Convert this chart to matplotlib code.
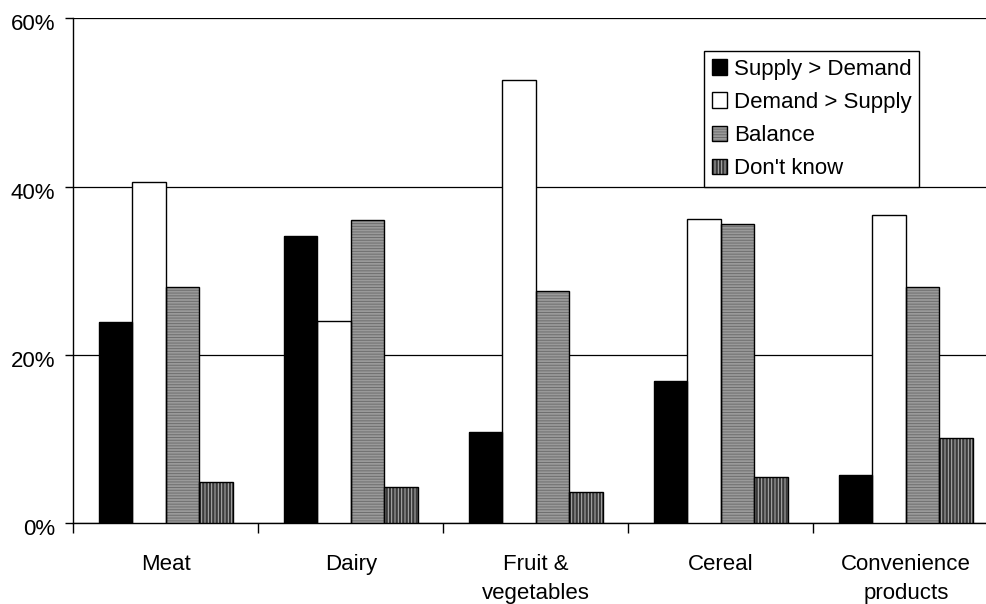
import matplotlib
matplotlib.use("Agg")
import matplotlib.pyplot as plt
import matplotlib.transforms as mtransforms
import numpy as np

categories = ["Meat", "Dairy", "Fruit &\nvegetables", "Cereal", "Convenience\nproducts"]
series_names = ["Supply > Demand", "Demand > Supply", "Balance", "Don't know"]
supply_gt_demand = [23.9, 34.2, 10.9, 16.9, 5.7]
demand_gt_supply = [40.5, 24.0, 52.7, 36.2, 36.6]
balance = [28.1, 36.0, 27.6, 35.6, 28.1]
dont_know = [4.9, 4.3, 3.7, 5.5, 10.1]
y_ticks = [0, 20, 40, 60]

plt.rcParams["font.family"] = ["Liberation Sans", "DejaVu Sans"]
plt.rcParams["hatch.linewidth"] = 0.7

# face colour, hatch pattern, hatch colour
styles = [
    ("black", None, "black"),
    ("white", None, "white"),
    ("#9a9a9a", "------", "#6e6e6e"),
    ("#3a3a3a", "|||||", "#b4b4b4"),
]

fig = plt.figure(figsize=(9.87, 6.04), dpi=100)
ax = fig.add_axes([73.3 / 987, 80.7 / 604, 925 / 987, 504.9 / 604])

x = np.arange(len(categories))
w = 1 / 5.5
handles = []
for j, (vals, (fc, hatch, hc)) in enumerate(
        zip([supply_gt_demand, demand_gt_supply, balance, dont_know], styles)):
    pos = x + (j - 1.5) * w
    fill = ax.bar(pos, vals, w, color=fc, hatch=hatch, edgecolor=hc, linewidth=0, zorder=3)
    line = ax.bar(pos, vals, w, fill=False, edgecolor="black", linewidth=1.0, zorder=4)
    handles.append((fill.patches[0], line.patches[0]))

ax.set_xlim(-0.5, 4.5)
ax.set_ylim(0, 60)
ax.set_yticks(y_ticks)
ax.set_yticklabels([f"{v}%" for v in y_ticks])
ax.yaxis.grid(True, color="black", linewidth=0.9, zorder=0)
ax.set_axisbelow(True)

ax.set_xticks(x)
ax.set_xticklabels(categories, linespacing=1.5)
ax.set_xticks(np.arange(-0.5, 5, 1), minor=True)
ax.tick_params(axis="x", which="major", length=0, pad=22, labelsize=16)
ax.tick_params(axis="x", which="minor", length=7, width=1, direction="out")
ax.tick_params(axis="y", length=6, width=1, pad=7, labelsize=16)

# y labels sit a little below their gridlines in the original
shift = mtransforms.ScaledTranslation(0, -4 / 100, fig.dpi_scale_trans)
for lab in ax.get_yticklabels():
    lab.set_transform(lab.get_transform() + shift)

for side in ["top", "right"]:
    ax.spines[side].set_visible(False)
ax.spines["left"].set_linewidth(1)
ax.spines["bottom"].set_linewidth(1)

leg = ax.legend(handles, series_names, loc="upper left",
                bbox_to_anchor=(704 / 987, 1 - 51 / 604), bbox_transform=fig.transFigure,
                fontsize=16, frameon=True, fancybox=False, framealpha=1,
                edgecolor="black", handlelength=0.7, handleheight=0.7,
                handletextpad=0.3, labelspacing=0.55, borderpad=0.35, borderaxespad=0)
leg.get_frame().set_linewidth(1)
leg.set_zorder(5)

fig.savefig("out.png", dpi=100)
